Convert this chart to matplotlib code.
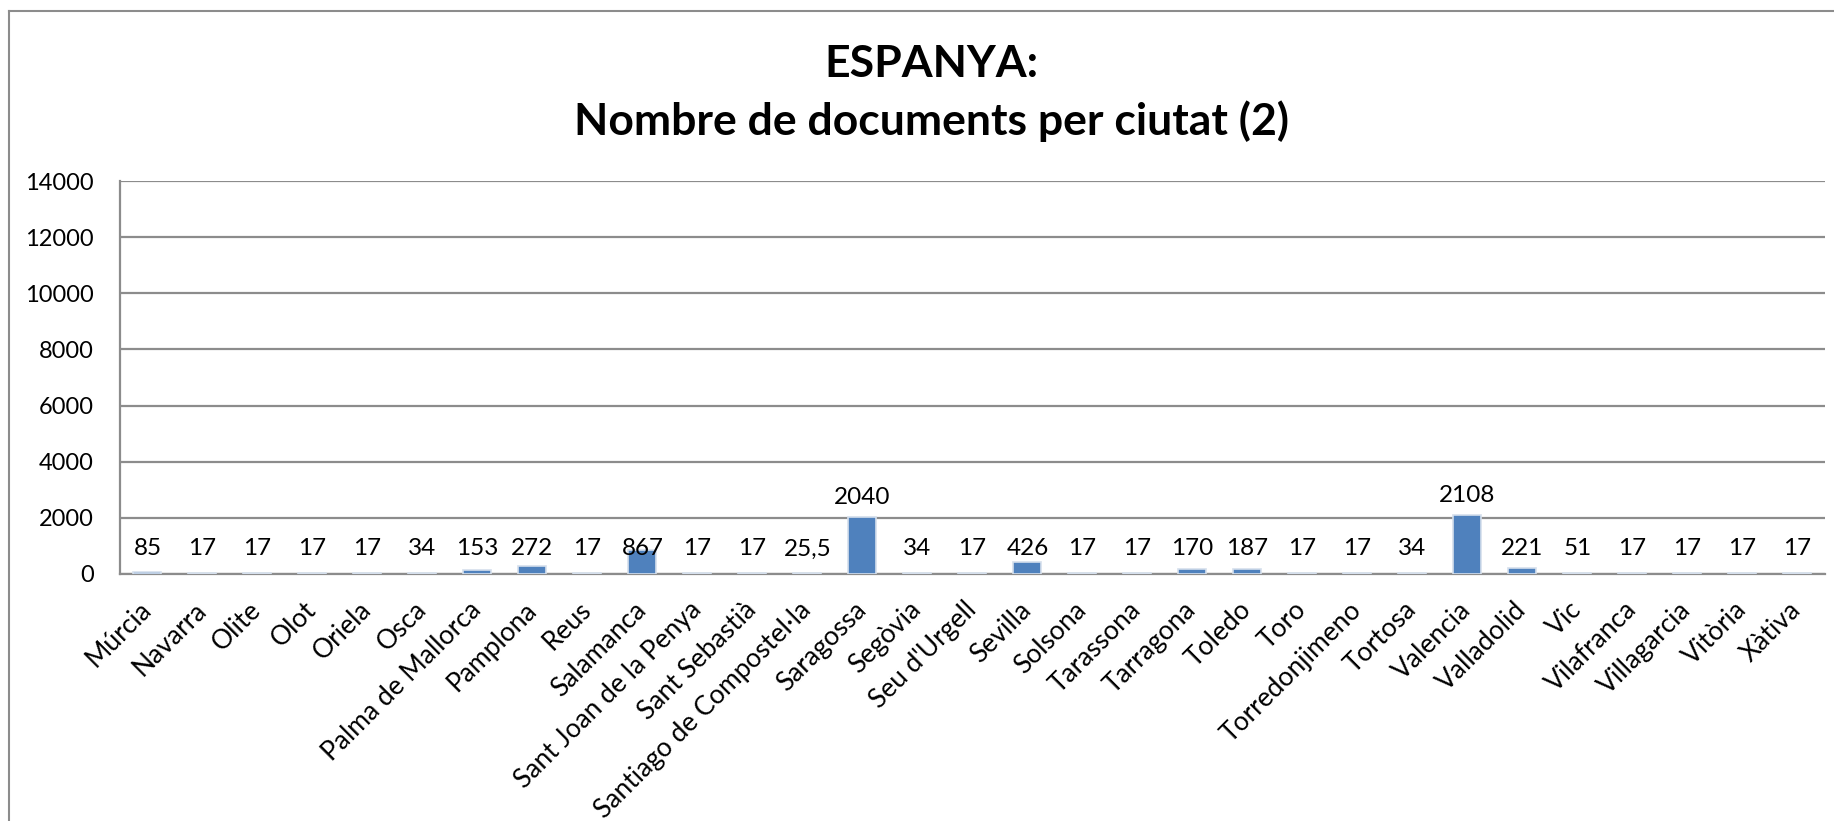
import matplotlib.pyplot as plt
from matplotlib.lines import Line2D

plt.rcParams['font.family'] = ['Lato', 'DejaVu Sans']

ciutats = ['Múrcia', 'Navarra', 'Olite', 'Olot', 'Oriela', 'Osca',
           'Palma de Mallorca', 'Pamplona', 'Reus', 'Salamanca',
           'Sant Joan de la Penya', 'Sant Sebastià', 'Santiago de Compostel·la',
           'Saragossa', 'Segòvia', "Seu d'Urgell", 'Sevilla', 'Solsona',
           'Tarassona', 'Tarragona', 'Toledo', 'Toro', 'Torredonjimeno',
           'Tortosa', 'Valencia', 'Valladolid', 'Vic', 'Vilafranca',
           'Villagarcia', 'Vitòria', 'Xàtiva']
documents = [85, 17, 17, 17, 17, 34, 153, 272, 17, 867, 17, 17, 25.5, 2040,
             34, 17, 426, 17, 17, 170, 187, 17, 17, 34, 2108, 221, 51, 17,
             17, 17, 17]
etiquetes = ['85', '17', '17', '17', '17', '34', '153', '272', '17', '867',
             '17', '17', '25,5', '2040', '34', '17', '426', '17', '17', '170',
             '187', '17', '17', '34', '2108', '221', '51', '17', '17', '17', '17']
yticks = [0, 2000, 4000, 6000, 8000, 10000, 12000, 14000]

fig = plt.figure(figsize=(18.34, 8.21), dpi=100)
ax = fig.add_axes([0.0654, 0.3009, 0.9296, 0.4786])

x = range(len(ciutats))
ax.bar(x, documents, width=0.51, color='#4F81BD', edgecolor='#d5dfec',
       linewidth=1.2, zorder=3)

ax.set_xlim(-0.5, len(ciutats) - 0.5)
ax.set_ylim(0, 14000)
ax.set_yticks(yticks)
ax.set_yticklabels([str(t) for t in yticks])
ax.yaxis.grid(True, color='#8c8c8c', linewidth=1.6, zorder=0)
ax.set_axisbelow(True)

for side in ['top', 'right']:
    ax.spines[side].set_visible(False)
for side in ['left', 'bottom']:
    ax.spines[side].set_color('#8c8c8c')
    ax.spines[side].set_linewidth(1.6)

ax.tick_params(axis='y', length=0, pad=19, labelsize=17)
ax.tick_params(axis='x', length=0, pad=23, labelsize=19)
ax.set_xticks(list(x))
ax.set_xticklabels(ciutats, rotation=45, ha='right', va='center',
                   rotation_mode='anchor')

# etiquetes de dades: les petites a la mateixa alçada, les grans damunt la barra
for i, (v, t) in enumerate(zip(documents, etiquetes)):
    if v > 1500:
        ax.annotate(t, (i, v), xytext=(0, 14), textcoords='offset points',
                    ha='center', va='center', fontsize=17.5)
    else:
        ax.annotate(t, (i, 0), xytext=(0, 18), textcoords='offset points',
                    ha='center', va='center', fontsize=17.5)

fig.text(0.508, 0.922, 'ESPANYA:', ha='center', va='center',
         fontsize=32, fontweight='bold')
fig.text(0.508, 0.852, 'Nombre de documents per ciutat (2)', ha='center',
         va='center', fontsize=32, fontweight='bold')

# vora de l'àrea del gràfic
fig.add_artist(Line2D([0.005, 0.005], [0, 0.986], transform=fig.transFigure,
                      color='#8c8c8c', linewidth=1.5))
fig.add_artist(Line2D([0.005, 1], [0.986, 0.986], transform=fig.transFigure,
                      color='#8c8c8c', linewidth=1.5))

fig.savefig('out.png', dpi=100, facecolor='white')
